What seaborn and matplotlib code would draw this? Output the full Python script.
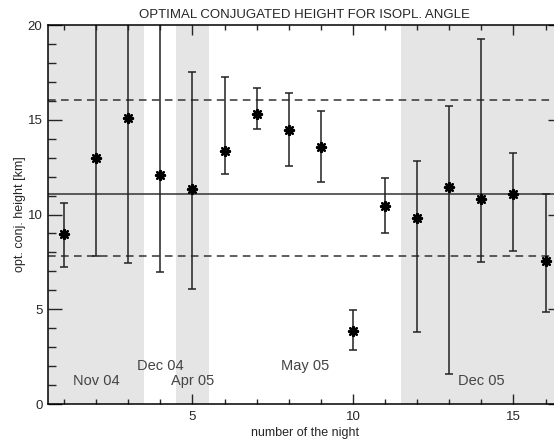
import matplotlib
matplotlib.use("Agg")
import matplotlib.pyplot as plt
import seaborn as sns
import pandas as pd
from matplotlib.ticker import MultipleLocator

# values
nights = list(range(1, 17))
height = [8.96, 12.97, 15.11, 12.07, 11.35, 13.37, 15.32, 14.48,
          13.56, 3.87, 10.47, 9.82, 11.47, 10.80, 11.08, 7.55]
err_low = [7.23, 7.83, 7.44, 6.98, 6.09, 12.15, 14.51, 12.56,
           11.70, 2.83, 9.04, 3.78, 1.58, 7.49, 8.09, 4.87]
err_high = [10.61, 21.0, 21.0, 21.0, 17.52, 17.26, 16.69, 16.43,
            15.48, 4.94, 11.91, 12.81, 15.71, 19.26, 13.25, 11.08]

mean_height = 11.10
band_low, band_high = 7.79, 16.03

periods = ["Nov 04", "Dec 04", "Apr 05", "May 05", "Dec 05"]
period_x = [2, 4, 5, 8.5, 14]
period_y = [1.2, 2.0, 1.2, 2.0, 1.2]
shaded = [(0.5, 3.5), (4.5, 5.5), (11.5, 16.5)]

df = pd.DataFrame({"night": nights, "height": height,
                   "low": err_low, "high": err_high})

sns.set_style("white")
plt.rcParams["font.family"] = ["Liberation Sans", "DejaVu Sans"]

fig = plt.figure(figsize=(5.54, 4.40), dpi=100)
ax = fig.add_axes([48 / 554, 36 / 440, (561.6 - 48) / 554, (404 - 25) / 440])

for x0, x1 in shaded:
    ax.axvspan(x0, x1, color="#e5e5e5", lw=0, zorder=0)

ax.axhline(mean_height, color="#333333", lw=1.1, zorder=1)
ax.axhline(band_low, color="#333333", lw=1.1, ls=(0, (5, 3.5)), zorder=1)
ax.axhline(band_high, color="#333333", lw=1.1, ls=(0, (5, 3.5)), zorder=1)

ax.errorbar(df["night"], df["height"],
            yerr=[df["height"] - df["low"], df["high"] - df["height"]],
            fmt="none", ecolor="#222222", elinewidth=1.1, capsize=3,
            capthick=1.1, zorder=2)

sns.scatterplot(data=df, x="night", y="height", marker=(8, 2, 0), s=42,
                color="black", linewidth=1.7, ax=ax, zorder=3, legend=False)

for lab, x, y in zip(periods, period_x, period_y):
    ax.text(x, y, lab, ha="center", va="center", fontsize=10.5, color="#444444")

ax.set_xlim(0.5, 16.5)
ax.set_ylim(0, 20)
ax.xaxis.set_major_locator(MultipleLocator(5))
ax.xaxis.set_minor_locator(MultipleLocator(1))
ax.yaxis.set_major_locator(MultipleLocator(5))
ax.yaxis.set_minor_locator(MultipleLocator(1))
ax.tick_params(axis="x", which="major", direction="in", length=7, width=1,
               top=True, bottom=True, labelsize=9.5, pad=5)
ax.tick_params(axis="x", which="minor", direction="in", length=3.5, width=1,
               top=True, bottom=True)
ax.tick_params(axis="y", which="major", direction="in", length=10, width=1,
               left=True, right=True, labelsize=9.5, pad=4)
ax.tick_params(axis="y", which="minor", direction="in", length=6, width=1,
               left=True, right=True)
for s in ax.spines.values():
    s.set_linewidth(1.1)
    s.set_color("black")

ax.set_xlabel("number of the night", fontsize=9, labelpad=3)
ax.set_ylabel("opt. conj. height [km]", fontsize=9, labelpad=1)
ax.set_title("OPTIMAL CONJUGATED HEIGHT FOR ISOPL. ANGLE", fontsize=9.5, pad=5)

fig.savefig("out.png", dpi=100)
